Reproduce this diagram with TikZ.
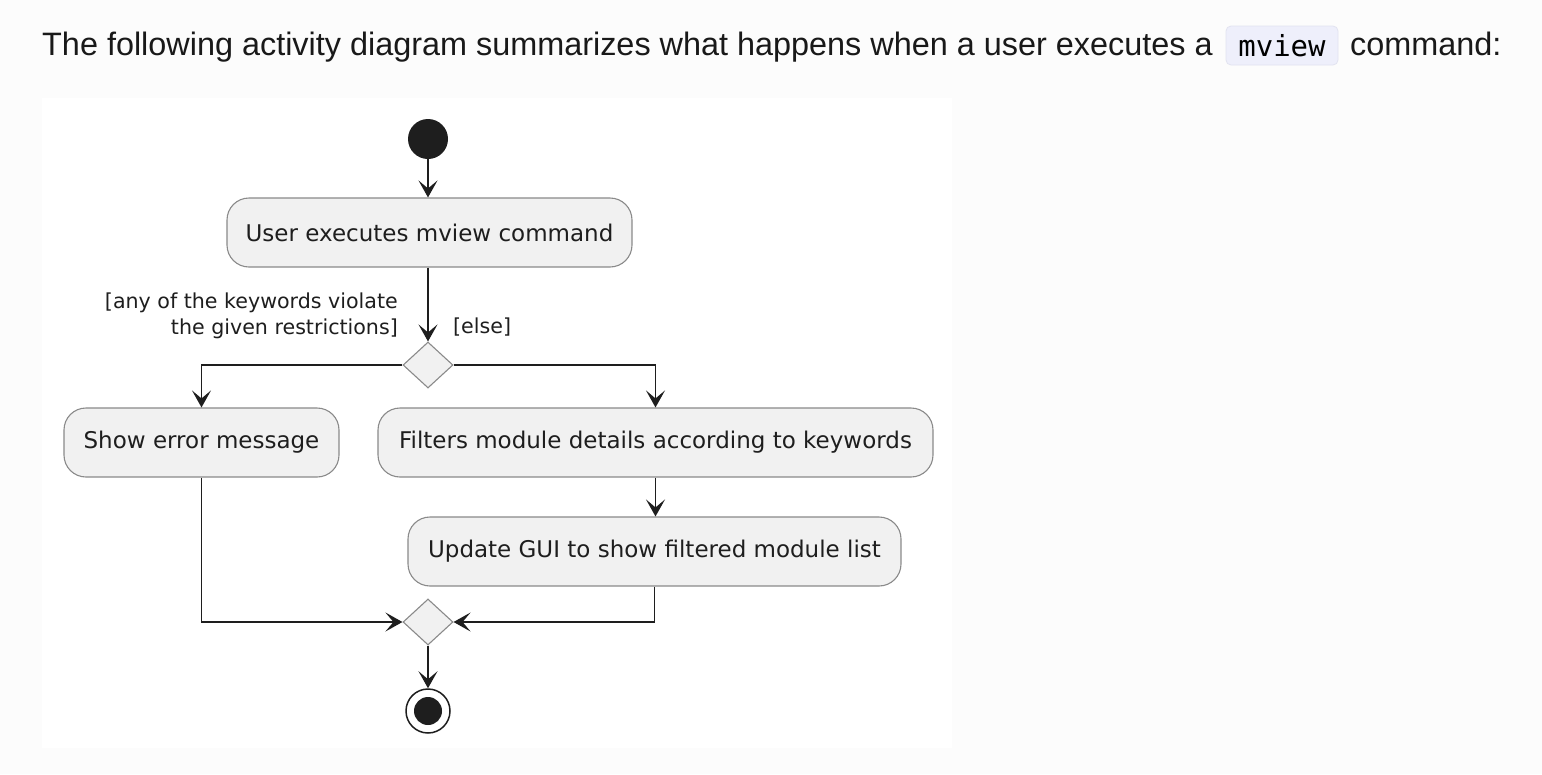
\documentclass[tikz,border=0pt]{standalone}
\usepackage{fontspec}
\setmainfont{Liberation Sans}
\newfontfamily\diagfont{DejaVu Sans}
\newfontfamily\codefont{DejaVu Sans Mono}
\usetikzlibrary{arrows.meta,shapes.geometric}
\definecolor{pagebg}{HTML}{FCFCFC}
\definecolor{actfill}{HTML}{F1F1F1}
\definecolor{actline}{HTML}{8A8A8A}
\definecolor{ink}{HTML}{1E1E1E}
\definecolor{codebg}{HTML}{EEEFFB}
\definecolor{codeline}{HTML}{E2E3F0}
\begin{document}
\begin{tikzpicture}[x=1pt,y=-1pt,
  act/.style={draw=actline, fill=actfill, line width=1.1pt, rounded corners=22pt,
    minimum height=69pt, inner sep=0pt, text=ink,
    font=\diagfont\fontsize{23}{27}\selectfont},
  dia/.style={diamond, draw=actline, fill=actfill, line width=1.1pt,
    minimum width=50pt, minimum height=46pt, inner sep=0pt},
  flow/.style={draw=ink, line width=1.5pt},
  arr/.style={flow, -{Stealth[length=17pt,width=19pt,inset=8pt]}},
  guard/.style={text=ink, inner sep=0pt, font=\diagfont\fontsize{20.6}{26}\selectfont},
  heading/.style={inner sep=0pt, text=black!90, font=\fontsize{32.4}{38}\selectfont}
]
\useasboundingbox (0,0) rectangle (1542,774);
\fill[pagebg] (0,0) rectangle (1542,774);
\fill[white] (42,98) rectangle (952,748);

% heading
\node[heading, anchor=base west] (h1) at (42,55)
  {The following activity diagram summarizes what happens when a user executes a};
\node[draw=codeline, fill=codebg, rounded corners=5pt, line width=0.8pt,
  minimum width=112pt, minimum height=39pt, inner sep=0pt,
  font=\codefont\fontsize{29}{34}\selectfont] (code) at (1282,45.5) {mview};
\node[heading, anchor=base west] (h2) at (1350,55) {command:};

% start
\node[circle, fill=ink, minimum size=40pt, inner sep=0pt] (start) at (428,139) {};

% actions
\node[act, minimum width=405pt] (a1) at (429.5,232.5) {User executes mview command};
\node[dia] (d1) at (428,365) {};
\node[act, minimum width=275pt] (a2) at (201.5,442.5) {Show error message};
\node[act, minimum width=555pt] (a3) at (655.5,442.5) {Filters module details according to keywords};
\node[act, minimum width=493pt] (a4) at (654.5,551.5) {Update GUI to show filtered module list};
\node[dia] (d2) at (428,622) {};

% end
\node[circle, draw=ink, fill=white, line width=1.5pt, minimum size=44pt, inner sep=0pt] (end) at (428,711) {};
\node[circle, fill=ink, minimum size=28pt, inner sep=0pt] (endin) at (end.center) {};

% guards
\node[guard, anchor=east, align=right] (g1) at (398,316)
  {[any of the keywords violate\\the given restrictions]};
\node[guard, anchor=west] (g2) at (453,327) {[else]};

% connectors
\draw[arr] (start.south) -- (start.south |- a1.north);
\draw[arr] (d1.north |- a1.south) -- (d1.north);
\draw[arr] (d1.west) -| (a2.north);
\draw[arr] (d1.east) -| (a3.north);
\draw[arr] (a3.south) -- (a3.south |- a4.north);
\draw[arr] (a2.south) |- (d2.west);
\draw[arr] (a4.south) |- (d2.east);
\draw[arr] (d2.south) -- (end.north);
\end{tikzpicture}
\end{document}
